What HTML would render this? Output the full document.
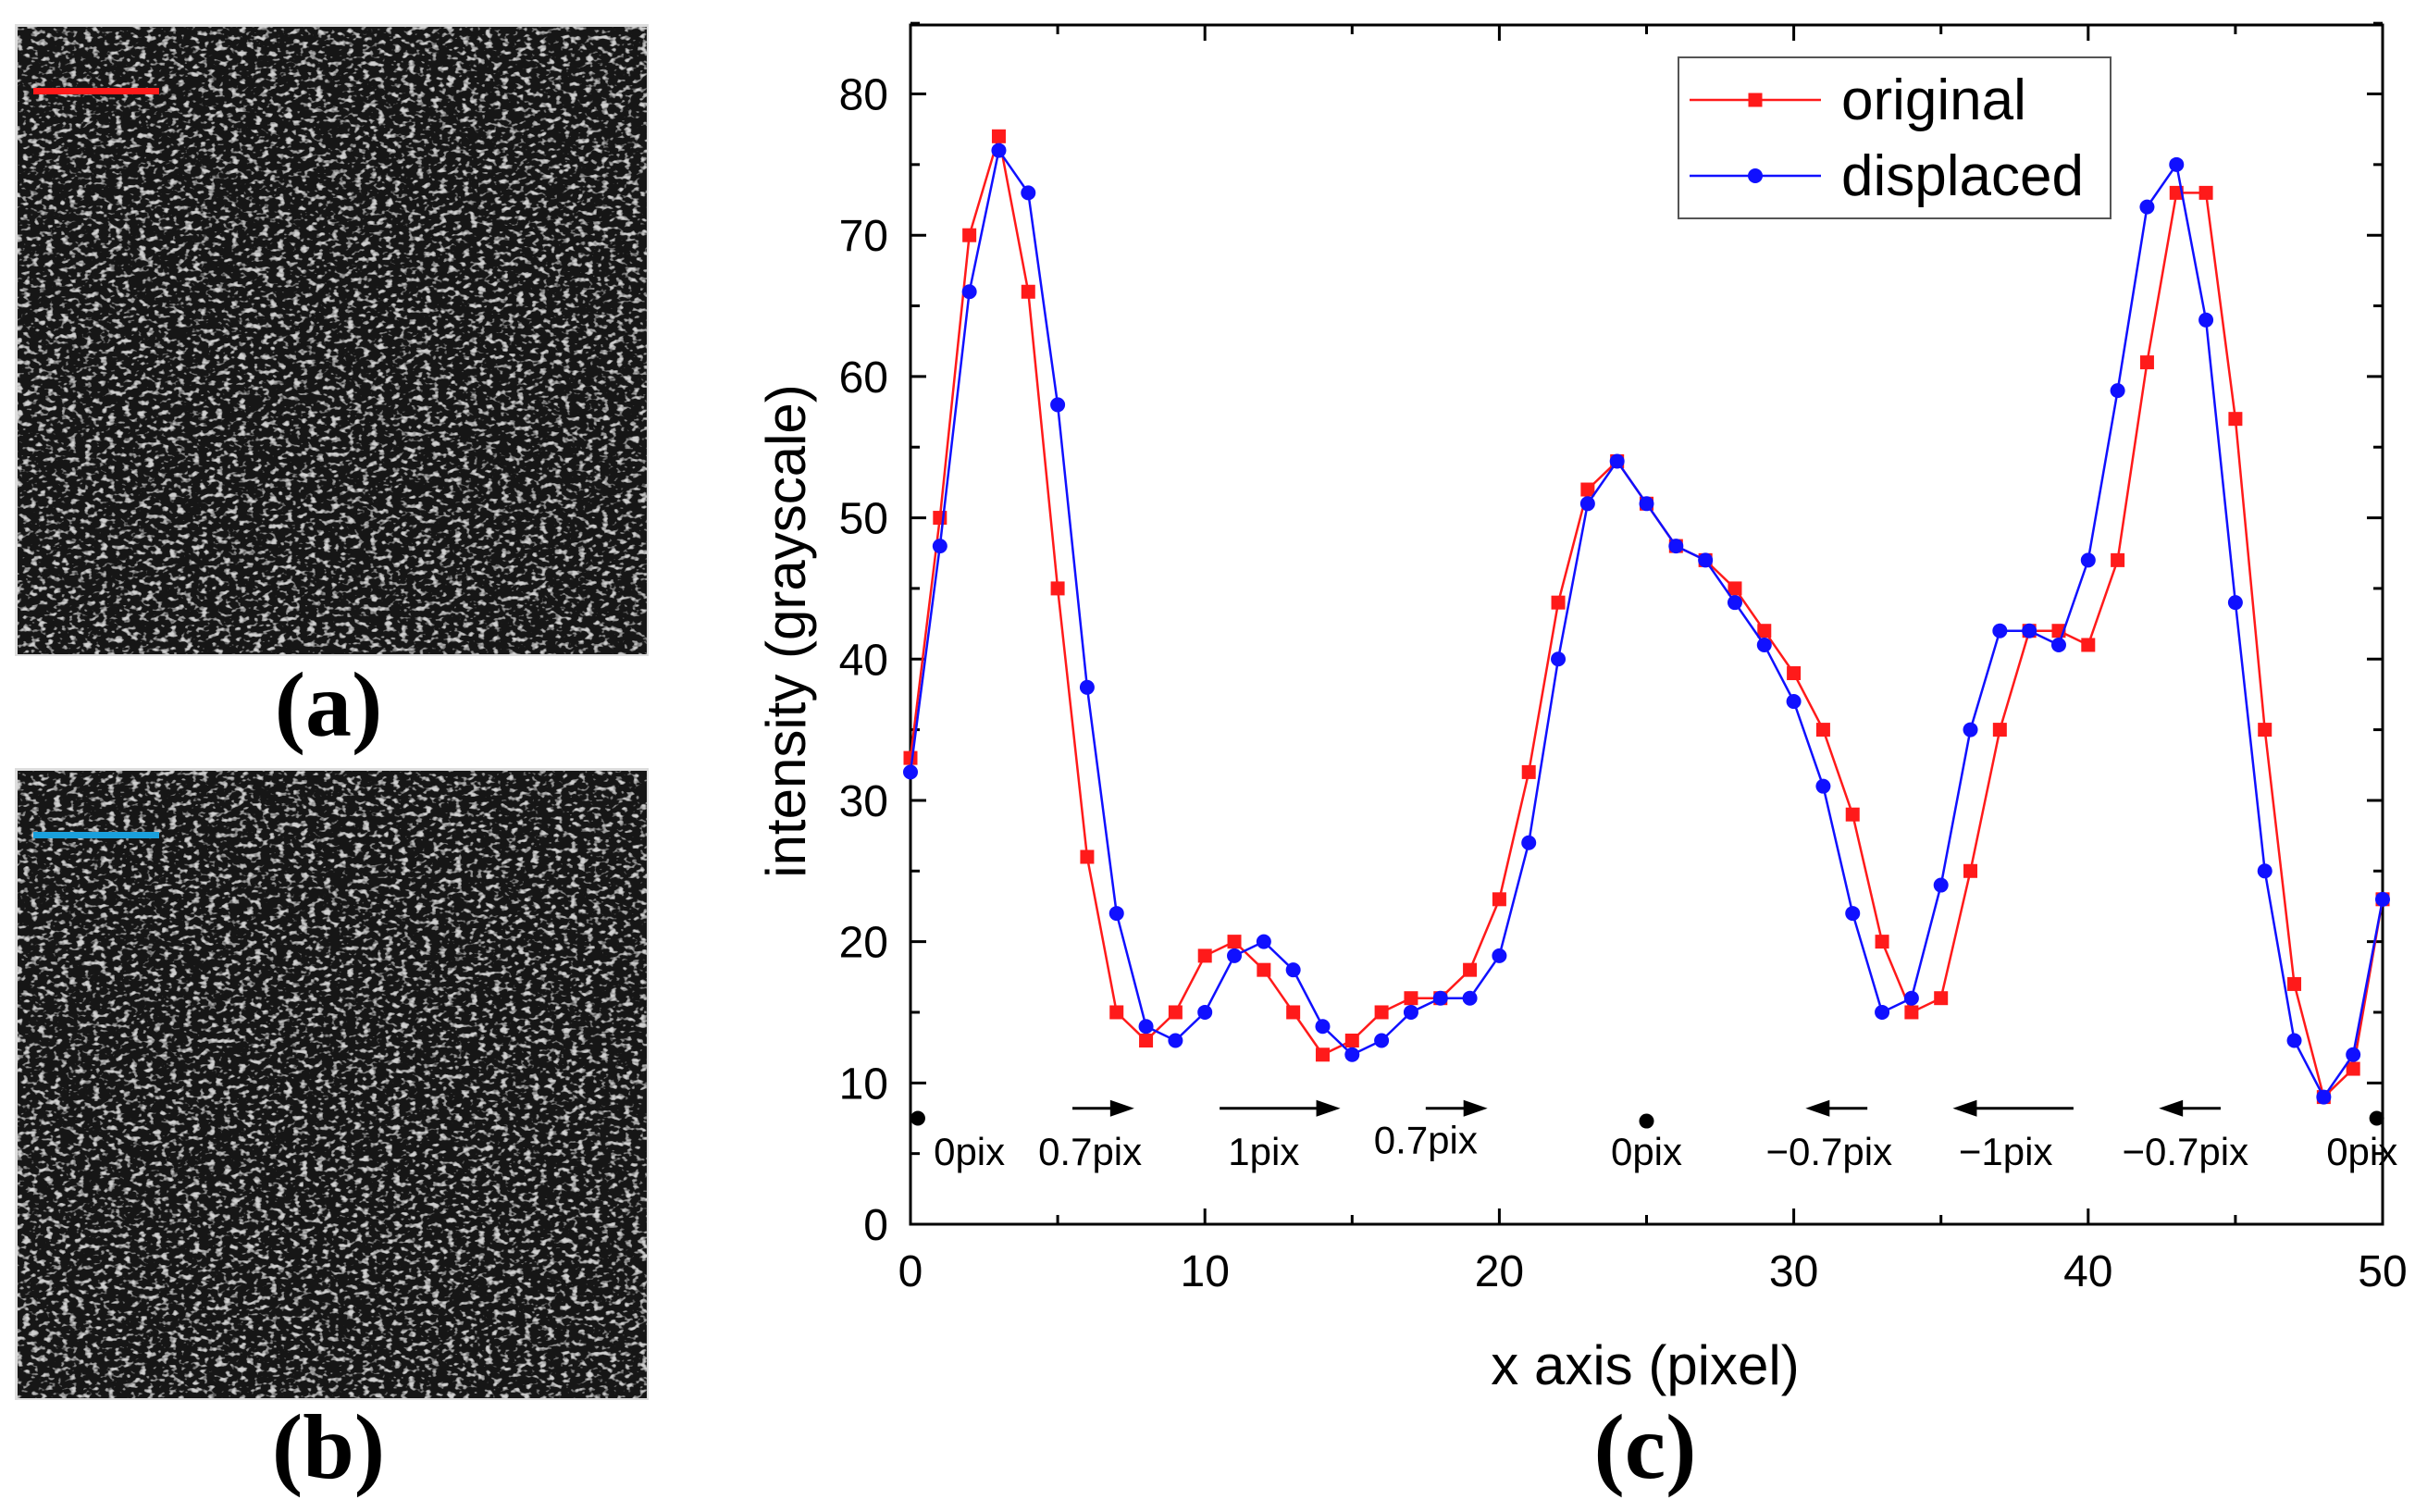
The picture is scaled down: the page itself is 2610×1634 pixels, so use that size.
<!DOCTYPE html>
<html><head><meta charset="utf-8"><style>
html,body{margin:0;padding:0;background:#fff;width:2610px;height:1634px;overflow:hidden}
svg{position:absolute;left:0;top:0}
</style></head><body>
<svg width="2610" height="1634" xmlns="http://www.w3.org/2000/svg">
<defs>
<filter id="speck" x="0" y="0" width="100%" height="100%">
<feTurbulence type="fractalNoise" baseFrequency="0.12 0.18" numOctaves="2" seed="4" result="n"/>
<feColorMatrix in="n" type="matrix" values="0 0 0 0 0  0 0 0 0 0  0 0 0 0 0  5 0 0 0 -2.75" result="m"/>
<feFlood flood-color="#cfcfcf" result="w"/>
<feComposite in="w" in2="m" operator="in" result="sp"/>
<feFlood flood-color="#141414" result="bg"/>
<feMerge><feMergeNode in="bg"/><feMergeNode in="sp"/></feMerge>
</filter>
</defs>
<g>
<rect x="16" y="26" width="685" height="683" fill="#ddd"/>
<rect x="19" y="29" width="680" height="678" filter="url(#speck)"/>
<rect x="36" y="95" width="136" height="7" fill="#ff1a1a"/>
<text x="355" y="795" font-family="Liberation Serif, serif" font-weight="bold" font-size="100" text-anchor="middle">(a)</text>
</g>
<g>
<rect x="16" y="830" width="685" height="683" fill="#ddd"/>
<rect x="19" y="833" width="680" height="678" filter="url(#speck)"/>
<rect x="36" y="899" width="136" height="7" fill="#1aa0dc"/>
<text x="355" y="1597" font-family="Liberation Serif, serif" font-weight="bold" font-size="100" text-anchor="middle">(b)</text>
</g>
<g id="chart"></g>
<text x="1778" y="1597" font-family="Liberation Serif, serif" font-weight="bold" font-size="100" text-anchor="middle">(c)</text>
</svg>
<script>
const xTicks=[0,10,20,30,40,50];
const yTicks=[0,10,20,30,40,50,60,70,80];
const originalVals=[33,50,70,77,66,45,26,15,13,15,19,20,18,15,12,13,15,16,16,18,23,32,44,52,54,51,48,47,45,42,39,35,29,20,15,16,25,35,42,42,41,47,61,73,73,57,35,17,9,11,23];
const displacedVals=[32,48,66,76,73,58,38,22,14,13,15,19,20,18,14,12,13,15,16,16,19,27,40,51,54,51,48,47,44,41,37,31,22,15,16,24,35,42,42,41,47,59,72,75,64,44,25,13,9,12,23];
const shiftLabels=["0pix","0.7pix","1pix","0.7pix","0pix","\u22120.7pix","\u22121pix","\u22120.7pix","0pix"];
const shiftLabelX=[2,6.1,12,17.5,25,31.2,37.2,43.3,49.3];
const arrowFrom=[5.5,10.5,17.5,32.5,39.5,44.5];
const arrowTo=[7.6,14.6,19.6,30.4,35.4,42.4];
const dotX=[0.25,25,49.8];
const dotY=[7.5,7.3,7.5];

const NS="http://www.w3.org/2000/svg";
const L=984,R=2575,T=27,B=1323;
const X=v=>L+(v-0)/50*(R-L);
const Y=v=>B-(v-0)/80*(1323-101.5);
const g=document.getElementById('chart');
function mk(tag,attrs,parent){const e=document.createElementNS(NS,tag);for(const k in attrs)e.setAttribute(k,attrs[k]);(parent||g).appendChild(e);return e;}

const frame=mk('rect',{x:L,y:T,width:R-L,height:B-T,fill:'none',stroke:'#000','stroke-width':3});



for(let v=0;v<=50;v+=5){
  const len=v%10===0?17:10;
  const t1=mk('line',{x1:X(v),x2:X(v),y1:B,y2:B-len,stroke:'#000','stroke-width':3});
  
  
  const t2=mk('line',{x1:X(v),x2:X(v),y1:T,y2:T+len,stroke:'#000','stroke-width':3});
  
  
}
for(let v=0;v<=85;v+=5){
  const len=v%10===0?17:10;
  const t1=mk('line',{x1:L,x2:L+len,y1:Y(v),y2:Y(v),stroke:'#000','stroke-width':3});
  
  
  const t2=mk('line',{x1:R,x2:R-len,y1:Y(v),y2:Y(v),stroke:'#000','stroke-width':3});
  
  
}
xTicks.forEach(v=>{
  const t=mk('text',{x:X(v),y:1390,'font-family':'Liberation Sans, sans-serif','font-size':48,'text-anchor':'middle'});
  t.textContent=v;
  
  
});
yTicks.forEach(v=>{
  const t=mk('text',{x:960,y:Y(v)+17,'font-family':'Liberation Sans, sans-serif','font-size':48,'text-anchor':'end'});
  t.textContent=v;
  
  
});
const xt=mk('text',{x:1778,y:1496,'font-family':'Liberation Sans, sans-serif','font-size':60,'text-anchor':'middle'});
xt.textContent='x axis (pixel)';


const yt=mk('text',{x:0,y:0,'font-family':'Liberation Sans, sans-serif','font-size':60,'text-anchor':'middle',transform:'translate(870,682) rotate(-90)'});
yt.textContent='intensity (grayscale)';



function series(vals,color,shape,name){
  const pts=vals.map((v,i)=>X(i)+','+Y(v)).join(' ');
  const pl=mk('polyline',{points:pts,fill:'none',stroke:color,'stroke-width':2.5});
  
  
  vals.forEach((v,i)=>{
    let m;
    if(shape==='sq') m=mk('rect',{x:X(i)-7.5,y:Y(v)-7.5,width:15,height:15,fill:color});
    else m=mk('circle',{cx:X(i),cy:Y(v),r:8,fill:color});
    
    
  });
}
series(originalVals,'#ff1a1a','sq','original');
series(displacedVals,'#1010ff','ci','displaced');

arrowFrom.forEach((a,i)=>{
  const b=arrowTo[i],y=Y(8.2),dir=b>a?1:-1;
  const ln=mk('line',{x1:X(a),x2:X(b)-dir*20,y1:y,y2:y,stroke:'#000','stroke-width':3});
  
  
  const hd=mk('polygon',{points:`${X(b)},${y} ${X(b)-dir*26},${y-9} ${X(b)-dir*26},${y+9}`,fill:'#000'});
  
  
});
dotX.forEach((d,i)=>{
  const c=mk('circle',{cx:X(d),cy:Y(dotY[i]),r:8,fill:'#000'});
  
  
});
shiftLabels.forEach((s,i)=>{
  const yy=(i===3)?Y(5.0):Y(4.2);
  const t=mk('text',{x:X(shiftLabelX[i]),y:yy,'font-family':'Liberation Sans, sans-serif','font-size':42,'text-anchor':'middle'});
  t.textContent=s;
  
  
});

const lg=mk('g',{});


const box=mk('rect',{x:1814,y:62,width:467,height:174,fill:'#fff',stroke:'#555','stroke-width':2},lg);


[['original','#ff1a1a','sq',108],['displaced','#1010ff','ci',190]].forEach(([n,c,s,y])=>{
  const e=mk('g',{},lg);
  
  
  mk('line',{x1:1826,x2:1968,y1:y,y2:y,stroke:c,'stroke-width':2.5},e);
  if(s==='sq') mk('rect',{x:1889.5,y:y-7.5,width:15,height:15,fill:c},e);
  else mk('circle',{cx:1897,cy:y,r:8,fill:c},e);
  const t=mk('text',{x:1990,y:y+21,'font-family':'Liberation Sans, sans-serif','font-size':62},e);
  t.textContent=n;
});
</script>
</body></html>
